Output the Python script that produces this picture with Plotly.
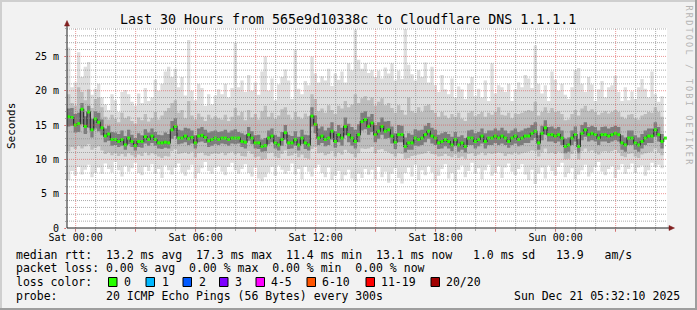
import plotly.graph_objects as go
import pandas as pd

# ---------------- data (in ms) ----------------
TITLE = "Last 30 Hours from 565e9d10338c to Cloudflare DNS 1.1.1.1"
START = "2025-12-19 23:34"
END = "2025-12-21 05:34"
STEP = "10min"

median = [16.2,16.1,15.0,15.2,17.3, 14.8,16.9,14.3,15.9,15.4, 14.6,13.4,13.7,12.9,12.9, 12.6,12.9,12.1,13.1,12.6,
          12.0,12.6,12.6,13.3,12.9, 13.4,12.9,12.4,12.4,12.5, 12.4,14.3,14.8,13.1,13.1, 13.4,13.0,13.2,12.4,13.4,
          13.5,13.2,12.7,12.9,13.1,
          12.9,13.1,13.1,12.9,13.1, 13.1,13.1,12.6,12.5,13.6, 13.1,12.4,12.4,11.9,12.0, 13.1,13.4,12.4,12.1,12.9,
          13.9,12.4,12.4,12.9,12.1, 13.1,12.4,12.1,16.3,15.1, 13.1,13.4,12.9,13.1,14.1, 12.6,13.6,13.1,14.8,13.6,
          13.1,12.6,13.6,15.5,15.8,
          14.8,15.3,13.6,14.1,14.8, 14.1,14.3,13.4,12.5,13.6, 13.6,11.9,12.4,12.4,13.1, 12.9,13.1,13.6,14.1,13.4,
          13.1,12.4,12.6,12.9,12.6, 12.1,12.9,12.1,12.4,11.9, 13.1,13.1,12.6,12.9,13.4, 12.6,13.1,13.1,13.4,13.1,
          13.4,13.1,12.6,13.1,13.4,
          12.9,13.1,13.4,13.4,13.8, 14.1,12.4,13.8,14.6,13.6, 13.6,13.4,13.6,13.1,11.9, 12.1,13.1,13.6,11.9,13.8,
          14.3,13.6,13.8,13.6,13.1, 13.6,13.6,13.4,13.6,13.8, 13.6,12.4,12.1,13.1,13.1, 12.4,12.1,12.6,13.1,13.4,
          13.4,14.3,13.6,12.6,13.1]

ping_max = [26.3,20.5,21.2,25.6,22.0, 23.5,24.2,19.4,20.3,21.0, 19.0,18.0,17.2,19.5,18.6, 16.9,19.8,20.1,19.5,18.4,
            17.8,19.6,18.2,20.4,18.5, 19.0,21.6,20.0,21.0,22.8, 23.5,22.0,23.2,20.5,22.0, 19.3,27.4,20.0,18.6,21.0,
            20.4,17.8,19.5,18.0,19.3,
            20.2,19.5,21.0,19.0,20.4, 27.0,20.5,21.5,19.8,22.3, 20.0,21.2,19.4,22.8,25.0, 20.0,21.8,18.6,20.9,22.0,
            23.1,21.5,18.8,26.0,20.3, 19.5,21.4,20.8,25.0,22.5, 21.2,22.1,21.5,23.2,20.7, 22.5,21.6,22.8,21.2,24.0,
            23.0,28.9,24.5,23.2,24.0,
            22.6,23.0,22.0,22.9,21.8, 23.4,22.5,24.0,21.5,22.9, 21.7,29.0,23.8,22.4,21.5, 23.0,22.0,24.1,21.2,23.5,
            20.8,19.8,22.3,20.2,19.5, 21.8,19.0,20.6,20.2,18.8, 21.0,22.0,19.2,20.3,19.0, 21.5,18.5,24.0,19.6,20.8,
            20.5,19.8,21.0,18.5,20.2,
            21.2,20.5,22.3,21.8,20.4, 26.6,21.0,19.6,20.8,18.5, 22.8,21.6,20.0,21.0,19.4, 18.8,20.5,23.0,23.3,21.0,
            19.8,22.0,20.9,18.5,20.2, 21.4,19.0,20.5,20.8,22.2, 19.8,18.5,20.5,18.6,19.9, 18.8,20.5,21.7,20.3,19.0,
            22.8,19.5,18.4,19.2,18.0]

ping_p90 = [19.5,18.2,17.8,20.5,19.8, 18.6,20.2,17.5,18.8,19.0, 17.6,16.2,15.8,16.5,15.9, 15.4,16.8,16.0,16.3,15.6,
            15.2,16.1,15.7,16.6,15.5, 16.0,16.9,15.8,16.4,17.0, 17.5,18.2,18.6,16.8,17.2, 16.0,18.5,16.4,15.8,16.7,
            16.2,15.6,16.5,15.9,16.3,
            16.0,15.8,16.5,15.6,16.2, 17.5,16.4,16.9,15.7,17.2, 16.1,16.6,15.8,17.0,17.8, 16.2,16.8,15.9,16.4,17.3,
            17.6,16.5,15.8,16.9,16.2, 15.9,16.7,16.3,19.5,18.8, 17.0,17.4,16.8,17.9,17.2, 16.6,17.8,17.4,18.5,17.6,
            18.0,19.5,18.2,18.9,19.2,
            18.6,19.0,17.8,18.4,18.9, 17.9,18.2,17.5,16.8,17.9, 17.2,16.5,19.0,17.0,16.8, 17.6,16.9,17.8,18.0,17.2,
            16.8,16.2,16.9,16.4,16.0, 16.6,16.2,16.8,15.9,15.6, 16.8,17.0,16.3,16.6,16.9, 16.2,16.8,16.5,16.9,17.6,
            16.5,16.4,16.8,16.0,16.7,
            16.6,16.8,17.0,17.2,17.0, 18.4,16.4,16.9,17.6,16.8, 17.5,16.9,17.0,16.6,15.7, 15.8,16.6,17.2,16.4,17.4,
            17.8,17.0,17.3,16.9,16.5, 16.8,17.0,16.7,16.9,17.2, 16.9,16.2,15.9,16.5,16.6, 16.0,15.8,16.4,16.6,16.9,
            16.8,17.6,16.9,16.2,16.0]

ping_p75 = [17.4,17.5,16.6,16.8,18.2, 16.3,17.8,15.9,17.0,16.8, 15.8,14.5,14.9,14.0,13.9, 13.7,14.2,13.4,14.3,13.6,
            13.1,13.8,13.5,14.4,13.9, 14.5,14.0,13.6,13.5,13.9, 13.7,15.6,16.0,14.3,14.2, 14.6,14.5,14.2,13.5,14.5,
            14.7,14.3,13.9,14.1,14.2,
            14.0,14.1,14.3,13.9,14.2, 14.4,14.0,13.8,13.6,14.7, 14.1,13.5,13.6,12.9,13.1, 14.2,14.5,13.6,13.3,14.0,
            15.0,13.6,13.4,14.1,13.3, 14.3,13.6,13.5,17.6,16.4, 14.5,14.8,14.2,14.6,15.4, 14.1,15.0,14.6,16.1,15.2,
            14.7,14.3,15.1,16.8,17.0,
            16.2,16.6,15.0,15.4,16.1, 15.5,15.6,14.8,13.8,15.0, 14.9,13.2,13.8,13.6,14.4, 14.2,14.3,14.9,15.3,14.6,
            14.3,13.6,13.8,14.0,13.7, 13.3,14.0,13.3,13.5,13.1, 14.2,14.3,13.8,14.0,14.5, 13.8,14.2,14.2,14.5,14.2,
            14.6,14.2,13.8,14.2,14.5,
            14.0,14.2,14.5,14.6,15.0, 15.4,13.5,14.9,15.7,14.7, 14.8,14.5,14.7,14.2,13.0, 13.2,14.2,14.8,13.0,15.0,
            15.4,14.7,14.9,14.7,14.2, 14.7,14.8,14.5,14.7,14.9, 14.7,13.5,13.2,14.2,14.2, 13.5,13.2,13.7,14.2,14.5,
            14.5,15.4,14.7,13.7,14.2]

ping_p25 = [14.8,14.9,13.9,14.0,15.1, 13.7,14.6,13.2,14.5,14.1, 13.5,12.5,12.7,12.0,12.1, 11.8,12.0,11.4,12.2,11.8,
            11.3,11.8,11.7,12.3,12.0, 12.4,12.0,11.6,11.5,11.7, 11.6,13.0,13.4,12.2,12.3, 12.5,12.1,12.3,11.6,12.5,
            12.6,12.4,11.8,12.0,12.2,
            12.1,12.3,12.2,12.0,12.3, 12.2,12.3,11.8,11.6,12.7, 12.2,11.6,11.5,11.1,11.2, 12.2,12.5,11.6,11.3,12.0,
            12.9,11.5,11.6,12.0,11.3, 12.2,11.5,11.3,14.8,13.8, 12.1,12.4,11.9,12.1,12.9, 11.7,12.5,12.0,13.5,12.5,
            12.0,11.6,12.5,14.2,14.4,
            13.6,14.0,12.5,13.0,13.6, 13.0,13.1,12.3,11.5,12.5, 12.5,11.0,11.4,11.4,12.0, 11.9,12.1,12.5,13.0,12.3,
            12.1,11.5,11.6,11.9,11.6, 11.2,11.9,11.1,11.4,11.0, 12.1,12.1,11.6,11.9,12.3, 11.6,12.1,12.1,12.4,12.1,
            12.3,12.1,11.7,12.1,12.3,
            11.9,12.1,12.4,12.4,12.8, 13.1,11.4,12.8,13.6,12.6, 12.6,12.4,12.6,12.1,10.9, 11.1,12.1,12.6,10.9,12.8,
            13.3,12.6,12.8,12.6,12.1, 12.6,12.6,12.4,12.6,12.8, 12.6,11.4,11.1,12.1,12.1, 11.4,11.1,11.6,12.1,12.4,
            12.4,13.3,12.6,11.6,12.1]

ping_p10 = [11.2,11.8,11.5,12.0,11.6, 11.9,12.2,11.4,11.7,11.9, 11.3,10.8,11.0,10.6,10.9, 10.5,10.8,10.4,10.9,10.6,
            10.3,10.7,10.5,11.0,10.6, 10.9,10.7,10.4,10.2,10.5, 10.4,11.2,11.5,10.8,10.9, 11.0,10.8,11.1,10.3,10.9,
            11.0,10.6,10.5,10.8,10.9,
            10.8,11.0,10.6,10.9,11.1, 10.7,10.9,10.5,10.4,11.2, 10.8,10.3,10.4,9.9,10.1, 10.9,11.0,10.4,10.2,10.8,
            11.3,10.5,10.6,10.9,10.3, 10.7,10.2,10.1,11.5,11.8, 10.9,11.0,10.6,10.8,11.2, 10.4,11.0,10.7,11.4,11.0,
            10.8,10.3,10.9,11.6,11.5,
            11.6,11.8,10.9,11.4,11.5, 11.2,11.0,10.8,10.4,10.9, 10.8,10.1,10.2,10.5,10.6, 10.7,10.8,10.9,11.2,10.8,
            10.7,10.4,10.5,10.8,10.5, 10.3,10.7,10.2,10.4,10.1, 10.8,10.9,10.5,10.7,11.0, 10.6,10.9,10.8,10.9,11.0,
            10.9,10.5,10.8,10.7,11.0,
            10.7,10.9,11.0,11.1,11.3, 11.2,10.4,11.0,11.6,10.9, 11.0,10.8,11.1,10.9,10.0, 10.1,10.8,11.3,10.0,11.2,
            11.6,11.1,11.3,11.0,10.7, 11.1,11.2,11.0,11.2,11.4, 11.0,10.5,10.3,10.8,10.9, 10.4,10.2,10.7,10.9,11.0,
            11.1,11.6,11.0,10.6,10.9]

ping_min = [7.0,8.3,7.6,8.9,7.8, 8.5,9.2,7.4,8.0,8.8, 7.9,9.4,8.6,8.1,9.6, 8.4,7.5,9.0,8.2,8.7,
            9.5,8.0,7.7,8.9,8.3, 9.3,7.9,8.6,7.3,9.1, 8.4,7.8,8.8,9.4,8.1, 7.6,8.5,9.2,7.2,8.0,
            8.7,9.6,8.3,7.9,8.8,
            9.0,8.2,7.7,8.9,9.5, 8.4,7.9,8.6,9.3,8.0, 7.5,8.8,7.2,6.8,7.4, 8.1,8.9,7.6,9.1,8.5,
            7.9,8.3,9.4,7.8,8.6, 7.1,8.9,8.2,7.5,8.7, 9.2,8.0,7.4,8.8,7.0, 7.6,8.3,6.9,7.7,8.5,
            7.2,6.8,7.9,7.3,8.6,
            7.8,8.5,7.1,8.9,7.4, 8.2,6.6,7.9,8.7,7.3, 6.5,8.0,8.8,7.5,9.2, 7.0,8.4,7.7,9.0,8.1,
            6.9,7.6,8.6,9.3,7.2, 8.0,6.8,8.5,9.1,7.4, 8.3,9.5,7.9,8.7,7.1, 8.4,9.2,7.6,8.0,9.0,
            7.3,8.8,9.4,8.2,7.7,
            8.6,9.3,7.8,7.0,8.5, 6.4,7.9,8.8,7.2,9.1, 8.3,7.6,8.9,9.5,7.4, 8.0,8.7,7.1,7.8,8.4,
            9.2,7.5,8.1,8.9,9.6, 8.2,7.7,8.6,9.0,7.3, 8.5,9.3,7.9,8.6,9.4, 8.0,8.8,9.1,7.6,8.4,
            9.5,8.9,9.2,8.7,9.0]

Y_TICKS = [0, 5, 10, 15, 20, 25]
Y_TICK_TEXT = ["0", "5 m", "10 m", "15 m", "20 m", "25 m"]
X_TICKS = ["2025-12-20 00:00", "2025-12-20 03:00", "2025-12-20 06:00", "2025-12-20 09:00",
           "2025-12-20 12:00", "2025-12-20 15:00", "2025-12-20 18:00", "2025-12-20 21:00",
           "2025-12-21 00:00", "2025-12-21 03:00"]
X_TICK_TEXT = ["Sat 00:00", "", "Sat 06:00", "", "Sat 12:00", "", "Sat 18:00", "", "Sun 00:00", ""]

RTT_LINE = "median rtt:  13.2 ms avg  17.3 ms max  11.4 ms min  13.1 ms now   1.0 ms sd   13.9   am/s"
LOSS_LINE = "packet loss: 0.00 % avg  0.00 % max  0.00 % min  0.00 % now"
LOSS_COLOR_TITLE = "loss color:"
LOSS_LABELS = ["0", "1", "2", "3", "4-5", "6-10", "11-19", "20/20"]
LOSS_COLORS = ["#26ff00", "#00b8ff", "#0059ff", "#7e00ff", "#ff00ff", "#ff5500", "#ff0000", "#a10000"]
PROBE_LINE = "probe:       20 ICMP Echo Pings (56 Bytes) every 300s"
DATE_TEXT = "Sun Dec 21 05:32:10 2025"
WATERMARK = "RRDTOOL / TOBI OETIKER"

# ---------------- figure ----------------
MONO = "DejaVu Sans Mono"
W, H = 697, 310
L, T, PW, PH = 67, 28, 600, 200


def px(x):
    return (x - L) / PW


def py(y):
    return (T + PH - y) / PH


n = min(len(median), len(ping_max), len(ping_min), len(ping_p10), len(ping_p90), len(ping_p25), len(ping_p75))
times = pd.date_range(START, periods=n, freq=STEP)
centers = times + pd.Timedelta(STEP) / 2

fig = go.Figure()
bands = [(ping_min, ping_max, "#dedede"),
         (ping_p10, ping_p90, "#bdbdbd"),
         (ping_p25, ping_p75, "#7d7d7d")]
for lo, hi, col in bands:
    fig.add_trace(go.Scatter(x=times, y=lo[:n], mode="lines", line=dict(width=0, shape="hv"),
                             hoverinfo="skip"))
    fig.add_trace(go.Scatter(x=times, y=hi[:n], mode="lines", line=dict(width=0, shape="hv"),
                             fill="tonexty", fillcolor=col, hoverinfo="skip"))

fig.add_trace(go.Scatter(x=times, y=median[:n], mode="lines",
                         line=dict(shape="hv", color="#2a2a2a", width=1.2), hoverinfo="skip"))
fig.add_trace(go.Scatter(x=centers, y=median[:n], mode="markers",
                         marker=dict(symbol="square", size=3, color=LOSS_COLORS[0], line=dict(width=0)),
                         hoverinfo="skip"))

shapes = []
GRID = "rgba(143,143,143,0.75)"
MGRID = "rgba(222,79,79,0.6)"
# grid (drawn over the smoke like rrdtool)
for h in pd.date_range("2025-12-20 00:00", "2025-12-21 05:00", freq="1h"):
    major = (h.hour % 3 == 0)
    shapes.append(dict(type="line", xref="x", yref="paper", x0=h, x1=h, y0=0, y1=1, layer="above",
                       line=dict(color=MGRID if major else GRID, width=1, dash="1px,1px")))
for v in range(1, 30):
    major = (v % 5 == 0)
    shapes.append(dict(type="line", xref="paper", yref="y", x0=0, x1=1, y0=v, y1=v, layer="above",
                       line=dict(color=MGRID if major else GRID, width=1, dash="1px,1px")))

# axes and arrows
AXIS = "#1f1f1f"
ARROW = "#801f1f"
shapes.append(dict(type="line", xref="paper", yref="paper", x0=0, x1=px(671), y0=0, y1=0,
                   line=dict(color=AXIS, width=1), layer="above"))
shapes.append(dict(type="line", xref="paper", yref="paper", x0=0, x1=0, y0=0, y1=py(24),
                   line=dict(color=AXIS, width=1), layer="above"))
shapes.append(dict(type="path", xref="paper", yref="paper", layer="above",
                   path=f"M {px(64.5)},{py(26)} L {px(67)},{py(20.5)} L {px(69.5)},{py(26)} Z",
                   fillcolor=ARROW, line=dict(color=ARROW, width=0.5)))
shapes.append(dict(type="path", xref="paper", yref="paper", layer="above",
                   path=f"M {px(669)},{py(225.5)} L {px(674.5)},{py(228)} L {px(669)},{py(230.5)} Z",
                   fillcolor=ARROW, line=dict(color=ARROW, width=0.5)))

# image frame shades
shapes.append(dict(type="line", xref="paper", yref="paper", x0=px(0), x1=px(W), y0=py(1), y1=py(1),
                   line=dict(color="#cfcfcf", width=2)))
shapes.append(dict(type="line", xref="paper", yref="paper", x0=px(1), x1=px(1), y0=py(0), y1=py(H),
                   line=dict(color="#cfcfcf", width=2)))
shapes.append(dict(type="line", xref="paper", yref="paper", x0=px(0), x1=px(W), y0=py(H - 1), y1=py(H - 1),
                   line=dict(color="#9e9e9e", width=2)))
shapes.append(dict(type="line", xref="paper", yref="paper", x0=px(W - 1), x1=px(W - 1), y0=py(0), y1=py(H),
                   line=dict(color="#9e9e9e", width=2)))

# loss colour boxes
BOX_X = [108.5, 146, 183, 219.5, 256, 307, 366, 431]
LABEL_X = [123, 160.5, 197.5, 234, 269.5, 320.5, 379.5, 445]
for bx, col in zip(BOX_X, LOSS_COLORS):
    shapes.append(dict(type="rect", xref="paper", yref="paper", x0=px(bx), x1=px(bx + 8.5),
                       y0=py(286.5), y1=py(277.5), fillcolor=col, line=dict(color="#000000", width=1)))

ann = []


def text(t, x, y, size=11.5, anchor="left", color="#000000", angle=0, yanchor="middle"):
    ann.append(dict(text=t, x=px(x), y=py(y), xref="paper", yref="paper", showarrow=False,
                    xanchor=anchor, yanchor=yanchor, textangle=angle, borderpad=0,
                    font=dict(family=MONO, size=size, color=color)))


text(TITLE, 348, 19, size=13.3, anchor="center")
text("Seconds", 11, 126, size=11, anchor="center", angle=-90)
text('<span style="letter-spacing:2.2px">' + WATERMARK + '</span>', 688.5, 86, size=8.5,
     anchor="center", color="#b4b4b4", angle=90)
text(RTT_LINE, 15, 254.5)
text(LOSS_LINE, 15, 268.3)
text(LOSS_COLOR_TITLE, 15, 282)
for lx, lab in zip(LABEL_X, LOSS_LABELS):
    text(lab, lx, 282)
text(PROBE_LINE, 15, 296)
text(DATE_TEXT, 681, 296, anchor="right")

fig.update_layout(
    width=W, height=H,
    margin=dict(l=L, r=W - L - PW, t=T, b=H - T - PH, pad=0),
    paper_bgcolor="#f2f2f2", plot_bgcolor="#ffffff",
    showlegend=False, hovermode=False,
    shapes=shapes, annotations=ann,
    xaxis=dict(type="date", range=[START, END], tickmode="array", tickvals=X_TICKS, ticktext=X_TICK_TEXT,
               showgrid=False, zeroline=False, showline=False, ticks="outside", ticklen=3,
               tickcolor=MGRID, tickwidth=1, ticklabelstandoff=-3,
               tickfont=dict(family=MONO, size=10, color="#000000"),
               minor=dict(dtick=3600000, tick0="2025-12-20 00:00", ticks="outside", ticklen=2,
                          tickcolor=GRID, showgrid=False)),
    yaxis=dict(range=[0, 29.14], tickmode="array", tickvals=Y_TICKS, ticktext=Y_TICK_TEXT,
               showgrid=False, zeroline=False, showline=False, ticks="outside", ticklen=2,
               tickcolor=MGRID, tickwidth=1, ticklabelstandoff=3,
               tickfont=dict(family=MONO, size=10, color="#000000"),
               minor=dict(dtick=1, tick0=0, ticks="outside", ticklen=1, tickcolor=GRID, showgrid=False)),
)

fig.write_html("out.html")
